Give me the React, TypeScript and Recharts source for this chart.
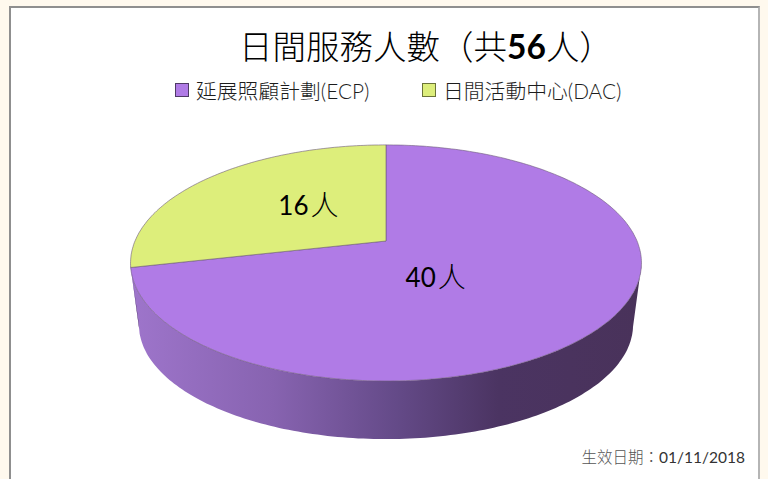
import { Legend, Pie, PieChart } from "recharts";

const categories = ["延展照顧計劃(ECP)", "日間活動中心(DAC)"];
const people = [40, 16];
const sliceColors = ["#B07BE6", "#DDEE7B"];
const swatchBorders = ["#4f3a66", "#6b7338"];
const wallStops = [
  ["0%", "#9E75CB"],
  ["28%", "#8763B0"],
  ["52%", "#644A88"],
  ["72%", "#4B3462"],
  ["100%", "#49325A"],
];

const chartData = categories.map((name, i) => ({
  name,
  value: people[i],
  fill: sliceColors[i],
}));

const FONT = "Lato, 'Noto Sans CJK TC', sans-serif";

// fake perspective for the tilted disc
const TILT = 0.186;
const SQUASH = 0.454;
const WALL_SCALE = 0.967;
const WALL_DROP = 62;
const CENTER_SHIFT = 22;

// nudges for the two data labels, relative to their mid-angle spot
const labelNudge = [
  { dx: -37, dy: 5 },
  { dx: 1, dy: -8 },
];

function project(cx: number, cy: number, r: number, angle: number, k = 1) {
  const rad = (angle * Math.PI) / 180;
  const u = Math.cos(rad) * k;
  const v = -Math.sin(rad) * k;
  const d = 1 - TILT * v;
  return { x: cx + (u * r) / d, y: cy + (v * r * SQUASH) / d, v };
}

function sampleAngles(start: number, end: number) {
  const out: number[] = [];
  const n = Math.max(2, Math.ceil(Math.abs(end - start)));
  for (let i = 0; i <= n; i++) out.push(start + ((end - start) * i) / n);
  return out;
}

function toPath(pts: { x: number; y: number }[]) {
  return pts.map((p, i) => `${i ? "L" : "M"}${p.x.toFixed(1)} ${p.y.toFixed(1)}`).join(" ");
}

function DiscSlice(props: any) {
  const { cx, cy, outerRadius, startAngle, endAngle, fill } = props;
  const rim = sampleAngles(startAngle, endAngle).map((a) => project(cx, cy, outerRadius, a));
  const front = rim.filter((p) => p.v >= TILT);
  const midY = cy + CENTER_SHIFT;
  const lower = [...front].reverse().map((p) => ({
    x: cx + (p.x - cx) * WALL_SCALE,
    y: midY + (p.y - midY) * WALL_SCALE + WALL_DROP,
  }));
  return (
    <g>
      {front.length > 1 && <path d={`${toPath([...front, ...lower])} Z`} fill="url(#wallShade)" />}
      <path
        d={`${toPath([{ x: cx, y: cy }, ...rim])} Z`}
        fill={fill}
        stroke="#6d5a78"
        strokeWidth={0.6}
      />
    </g>
  );
}

function SliceLabel(props: any) {
  const { cx, cy, outerRadius, midAngle, index, value } = props;
  const p = project(cx, cy, outerRadius, midAngle, 0.42);
  return (
    <text
      x={p.x + labelNudge[index].dx}
      y={p.y + labelNudge[index].dy}
      textAnchor="middle"
      dominantBaseline="central"
      fontFamily={FONT}
      fontSize={26}
      fill="#000"
    >
      {value}
      <tspan dx={2} fontSize={28} fontWeight={300}>
        人
      </tspan>
    </text>
  );
}

function LegendRow({ payload }: any) {
  return (
    <div style={{ display: "flex", fontFamily: FONT, fontWeight: 300, fontSize: 20.8, color: "#1c1c1c" }}>
      {(payload ?? []).map((item: any, i: number) => (
        <div key={item.value} style={{ display: "flex", alignItems: "center", width: 247, whiteSpace: "nowrap" }}>
          <span
            style={{
              width: 12,
              height: 12,
              marginRight: 7,
              background: sliceColors[i],
              border: `1px solid ${swatchBorders[i]}`,
            }}
          />
          {item.value}
        </div>
      ))}
    </div>
  );
}

export default function App() {
  return (
    <div style={{ position: "absolute", left: 0, top: 0, width: 768, height: 479, overflow: "hidden", background: "#FFF9EE" }}>
      <div
        style={{
          position: "absolute",
          left: 9,
          top: 6,
          width: 751,
          height: 490,
          background: "#fff",
          borderTop: "2px solid #8f8f8f",
          borderLeft: "2px solid #8f8f8f",
          borderRight: "2px solid #b5b5b5",
          boxSizing: "border-box",
        }}
      />
      <div style={{ position: "absolute", left: 0, top: 0 }}>
        <PieChart width={768} height={479} margin={{ top: 0, right: 0, bottom: 0, left: 0 }}>
          <defs>
            <linearGradient id="wallShade" x1="0" y1="0" x2="1" y2="0">
              {wallStops.map(([offset, color]) => (
                <stop key={offset} offset={offset} stopColor={color} />
              ))}
            </linearGradient>
          </defs>
          <text x={239} y={59} fontFamily={FONT} fontWeight={300} fontSize={33.5} fill="#000">
            日間服務人數（共<tspan fontWeight={700}>56</tspan>人）
          </text>
          <Legend
            content={<LegendRow />}
            layout="horizontal"
            verticalAlign="middle"
            align="center"
            wrapperStyle={{ left: 175, top: 75, width: 520 }}
          />
          <Pie
            data={chartData}
            dataKey="value"
            nameKey="name"
            cx={386}
            cy={241}
            outerRadius={251}
            startAngle={90}
            endAngle={-270}
            stroke="none"
            shape={DiscSlice}
            label={SliceLabel}
            labelLine={false}
            isAnimationActive={false}
          />
          <text x={745} y={463} textAnchor="end" fontFamily={FONT} fontWeight={300} fontSize={15.5} fill="#555">
            生效日期：<tspan fill="#333" fontWeight={400}>01/11/2018</tspan>
          </text>
        </PieChart>
      </div>
    </div>
  );
}
